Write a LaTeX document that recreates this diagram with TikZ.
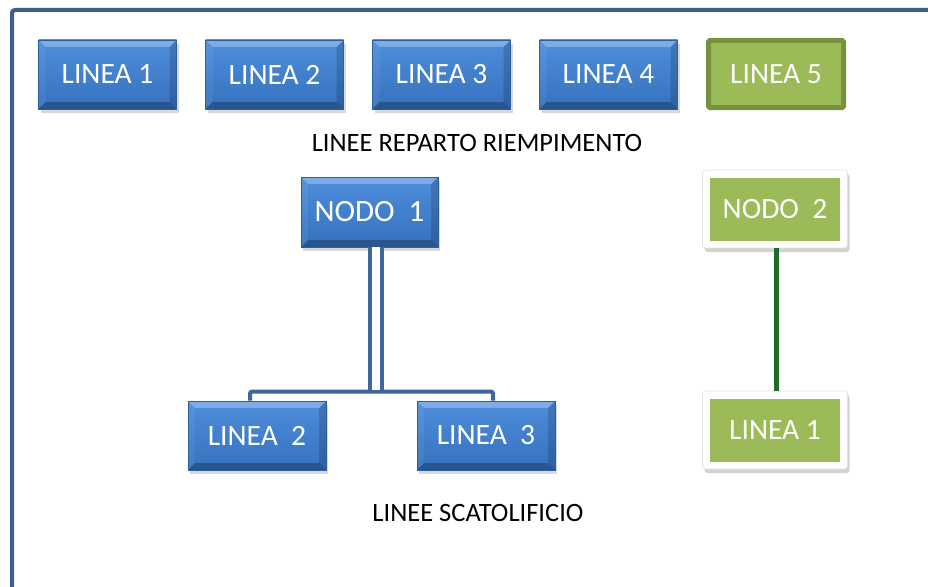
\documentclass[tikz,border=0pt]{standalone}
\usepackage{fontspec}
\setmainfont{Carlito}
\usetikzlibrary{shadows}
\definecolor{frameblue}{HTML}{3B5E8C}
\definecolor{blueA}{HTML}{4E8EDC}
\definecolor{blueB}{HTML}{3F7ECB}
\definecolor{blueC}{HTML}{3671BD}
\definecolor{blueEdge}{HTML}{2D5F9C}
\definecolor{conblue}{HTML}{3E6698}
\definecolor{greenFill}{HTML}{9BBB59}
\definecolor{greenEdge}{HTML}{76923C}
\definecolor{greenLine}{HTML}{1D6B27}
\tikzset{
  bluebox/.style={rectangle, inner sep=0pt, minimum width=138pt, minimum height=69pt,
    top color=blueA, middle color=blueB, bottom color=blueC, draw=blueEdge, line width=0.8pt,
    text=white, font=\fontsize{29.5}{33}\selectfont,
    drop shadow={opacity=0.3, shadow xshift=2pt, shadow yshift=-4pt},
    path picture={
      \fill[white,opacity=0.28] (path picture bounding box.north west) -- (path picture bounding box.north east)
        -- ([xshift=-7pt,yshift=-7pt]path picture bounding box.north east) -- ([xshift=7pt,yshift=-7pt]path picture bounding box.north west) -- cycle;
      \fill[white,opacity=0.06] (path picture bounding box.north west) -- (path picture bounding box.south west)
        -- ([xshift=7pt,yshift=7pt]path picture bounding box.south west) -- ([xshift=7pt,yshift=-7pt]path picture bounding box.north west) -- cycle;
      \fill[black,opacity=0.25] (path picture bounding box.south west) -- (path picture bounding box.south east)
        -- ([xshift=-7pt,yshift=7pt]path picture bounding box.south east) -- ([xshift=7pt,yshift=7pt]path picture bounding box.south west) -- cycle;
      \fill[black,opacity=0.15] (path picture bounding box.north east) -- (path picture bounding box.south east)
        -- ([xshift=-7pt,yshift=7pt]path picture bounding box.south east) -- ([xshift=-7pt,yshift=-7pt]path picture bounding box.north east) -- cycle;
    }},
  greenbox/.style={rectangle, inner sep=0pt, minimum width=135pt, minimum height=67pt,
    fill=greenFill, draw=greenEdge, line width=5pt, rounded corners=1.5pt,
    text=white, font=\fontsize{29.5}{33}\selectfont},
  whitegreen/.style={rectangle, inner sep=0pt, minimum width=145pt, minimum height=78pt,
    fill=white, draw=black!12, line width=0.6pt, rounded corners=3pt,
    text=white, font=\fontsize{29.5}{33}\selectfont,
    drop shadow={opacity=0.35, shadow xshift=2pt, shadow yshift=-4pt},
    path picture={
      \fill[greenFill, sharp corners] ([xshift=7.5pt,yshift=-7.5pt]path picture bounding box.north west)
        rectangle ([xshift=-7.5pt,yshift=7.5pt]path picture bounding box.south east);
    }},
  caption/.style={font=\fontsize{26.5}{30}\selectfont, text=black, inner sep=0pt},
  bluecon/.style={draw=conblue, line width=4pt, rounded corners=2pt},
  greencon/.style={draw=greenLine, line width=5pt},
}
\begin{document}
\begin{tikzpicture}[x=1pt,y=-1pt]
\useasboundingbox (0,0) rectangle (928,586);
\fill[white] (0,0) rectangle (928,586);
% frame
\draw[frameblue, line width=4pt, rounded corners=3pt] (12,590) -- (12,10) -- (932,10);
% top row
\node[bluebox] (t1) at (107.5,74.5) {LINEA 1};
\node[bluebox] (t2) at (274.5,74.5) {LINEA 2};
\node[bluebox] (t3) at (441.5,74.5) {LINEA 3};
\node[bluebox] (t4) at (608.5,74.5) {LINEA 4};
\node[greenbox] (t5) at (776,74) {LINEA 5};
\node[caption] (cap1) at (477,143) {LINEE REPARTO RIEMPIMENTO};
% tree
\node[bluebox, minimum width=137pt, minimum height=70pt, font=\fontsize{31}{34}\selectfont] (n1) at (369.5,212) {NODO\ \ 1};
\node[bluebox] (b2) at (257,435.5) {LINEA\ \ 2};
\node[bluebox] (b3) at (486,435.5) {LINEA\ \ 3};
\draw[bluecon] ([xshift=-7pt]b2.north) -- ++(0,-9) coordinate (barL) -| ([xshift=7pt]b3.north);
\draw[draw=conblue, line width=4pt, double=white, double distance=8pt]
  ([xshift=6pt]n1.south) -- ([xshift=6pt,yshift=2pt]n1.south |- barL);
\node[caption] (cap2) at (478,513) {LINEE SCATOLIFICIO};
% right column
\node[whitegreen] (n2) at (775,209) {NODO\ \ 2};
\node[whitegreen] (r1) at (775,430) {LINEA 1};
\draw[greencon] ([xshift=1pt]n2.south) -- ([xshift=1pt]r1.north);
\end{tikzpicture}
\end{document}
